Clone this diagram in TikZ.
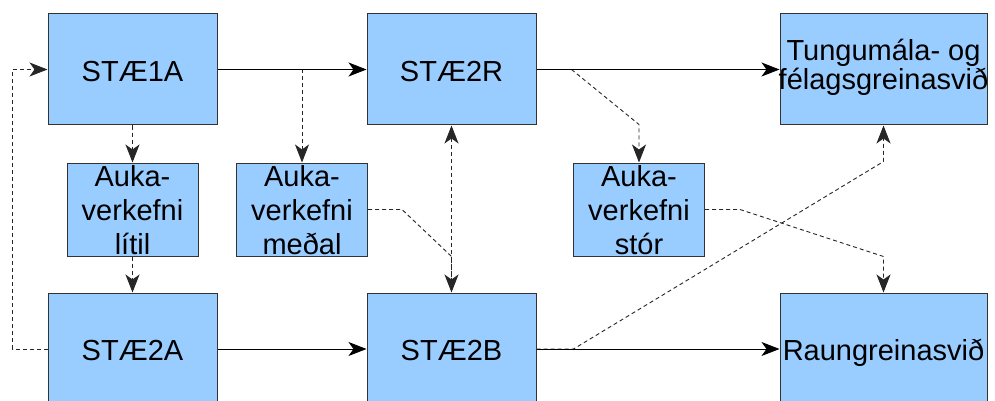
\documentclass[tikz,border=0pt]{standalone}
\usepackage{fontspec}
\setmainfont{Liberation Sans}
\usetikzlibrary{arrows.meta}
\definecolor{boxfill}{HTML}{99CCFF}
\definecolor{boxline}{HTML}{333333}
\begin{document}
\begin{tikzpicture}[x=1pt,y=-1pt,
  box/.style={draw=boxline, fill=boxfill, line width=1pt, inner sep=0pt},
  bigbox/.style={box, minimum width=169pt, minimum height=111pt},
  widebox/.style={box, minimum width=207pt, minimum height=111pt},
  smallbox/.style={box, minimum width=131pt, minimum height=93pt},
  lbl/.style={align=center, inner sep=0pt, font=\fontsize{29}{34}\selectfont},
  conn/.style={line width=0.9pt, draw=black, -{Stealth[length=18pt,width=14pt,inset=5pt]}},
  dconn/.style={conn, draw=black!85, dash pattern=on 4pt off 3pt},
  both/.style={{Stealth[length=18pt,width=14pt,inset=5pt]}-{Stealth[length=18pt,width=14pt,inset=5pt]}},
]
\clip (0,0) rectangle (995,401);
\fill[white] (0,0) rectangle (995,401);

% boxes
\node[bigbox] (s1a) at (132.5,69.5) {};
\node[bigbox] (s2r) at (451.5,69.5) {};
\node[widebox] (tung) at (883.5,69.5) {};
\node[box, minimum width=169pt, minimum height=112pt] (s2a) at (132.5,349) {};
\node[box, minimum width=169pt, minimum height=112pt] (s2b) at (451.5,349) {};
\node[box, minimum width=207pt, minimum height=112pt] (raun) at (883.5,349) {};
\node[smallbox] (lit) at (132.5,209.5) {};
\node[smallbox] (med) at (302,209.5) {};
\node[smallbox] (stor) at (639,209.5) {};

% labels
\node[lbl, anchor=base] (ts1a) at ([yshift=-12pt]s1a.center) {STÆ1A};
\node[lbl, anchor=base] (ts2r) at ([yshift=-12pt]s2r.center) {STÆ2R};
\node[lbl, anchor=base] (ts2a) at ([yshift=-11pt]s2a.center) {STÆ2A};
\node[lbl, anchor=base] (ts2b) at ([yshift=-11pt]s2b.center) {STÆ2B};
\node[lbl, anchor=base] (traun) at ([yshift=-11pt]raun.center) {Raungreinasvið};
\node[lbl, font=\fontsize{29}{29.5}\selectfont] (ttung) at ([yshift=2pt]tung.center) {Tungumála- og\\félagsgreinasvið};
\node[lbl] (tlit) at ([yshift=-1pt]lit.center) {Auka-\\verkefni\\lítil};
\node[lbl] (tmed) at ([yshift=-1pt]med.center) {Auka-\\verkefni\\meðal};
\node[lbl] (tstor) at ([yshift=-1pt]stor.center) {Auka-\\verkefni\\stór};

% connectors
\draw[dconn] (s1a.east) -| (med.north);
\draw[conn] (s1a.east) -- (s2r.west);
\draw[dconn] (s1a.south) -- (lit.north);
\draw[dconn] (lit.south) -- (s2a.north);
\draw[dconn] (s2a.west) -- ++(-35,0) |- (s1a.west);
\draw[conn] (s2a.east) -- (s2b.west);
\draw[dconn, both] (s2r.south) -- (s2b.north);
\draw[dconn, -] (med.east) -- ++(34,0) -- ([yshift=36pt]s2b.north) -- (s2b.north);
\draw[dconn] (s2r.east) -- ++(35,0) -- ([yshift=38pt]stor.north) -- (stor.north);
\draw[conn] (s2r.east) -- (tung.west);
\draw[dconn] (stor.east) -- ++(35,0) -- ([yshift=36pt]raun.north) -- (raun.north);
\draw[dconn] (s2b.east) -- ++(37,0) -- ([yshift=-36pt]tung.south) -- (tung.south);
\draw[conn] (s2b.east) -- (raun.west);
\end{tikzpicture}
\end{document}
